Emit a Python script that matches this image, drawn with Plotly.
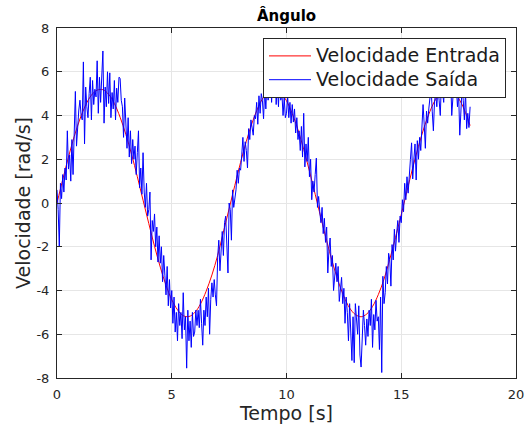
import plotly.graph_objects as go

# Reference (input) velocity, sampled every 0.25 s
t_entrada = [round(0.25 * i, 2) for i in range(73)]
vel_entrada = [
    0.00, 1.07, 2.10, 3.04, 3.84, 4.48, 4.93, 5.16, 5.18, 4.97,
    4.55, 3.92, 3.14, 2.22, 1.20, 0.13, -0.94, -1.98, -2.93, -3.76,
    -4.42, -4.88, -5.15, -5.19, -5.01, -4.62, -4.03, -3.29, -2.40, -1.33,
    -0.26, 0.81, 1.86, 2.82, 3.66, 4.34, 4.84, 5.13, 5.20, 5.04,
    4.67, 4.09, 3.35, 2.45, 1.46, 0.40, -0.68, -1.73, -2.70, -3.57,
    -4.27, -4.80, -5.10, -5.20, -5.07, -4.73, -4.19, -3.48, -2.57, -1.58,
    -0.53, 0.55, 1.61, 2.59, 3.47, 4.19, 4.74, 5.08, 5.20, 5.10,
    4.78, 4.26, 3.54,
]

# Measured (output) velocity, sampled every 0.05 s (one row per second)
t_saida = [round(0.05 * i, 2) for i in range(361)]
vel_saida = [
    0.6, -0.3, -2.0, 0.9, 0.2, 1.3, 0.5, 1.6, 1.05, 3.3, 1.55, 2.2, 1.0, 2.9, 1.3, 3.1, 5.1, 2.6, 3.5, 4.25,
    4.7, 4.0, 3.8, 6.45, 2.7, 5.3, 4.4, 3.9, 5.0, 5.75, 3.8, 5.6, 4.5, 5.2, 4.85, 6.5, 4.1, 5.75, 4.6, 5.5,
    6.95, 3.65, 5.3, 4.4, 6.0, 4.55, 5.95, 3.9, 5.05, 4.3, 5.6, 3.8, 5.25, 4.6, 5.75, 5.7, 4.7, 4.4, 3.0, 4.8,
    3.6, 2.5, 3.9, 2.1, 3.3, 1.8, 2.9, 2.0, 2.6, 1.3, 2.3, 3.3, 0.7, 1.6, 0.4, 2.3, 0.5, -0.2, 0.9, -0.6,
    -0.3, 0.5, -2.6, -0.8, -1.3, -0.5, -2.0, -1.1, -2.7, -1.5, -2.75, -2.0, -3.6, -2.4, -3.3, -4.2, -2.9, -4.7, -3.5, -4.8,
    -4.0, -5.5, -4.3, -5.9, -5.0, -6.3, -4.6, -5.6, -5.0, -6.2, -4.1, -5.8, -5.2, -7.55, -4.9, -6.3, -5.4, -6.6, -5.0, -6.1,
    -5.9, -4.9, -5.6, -4.9, -5.7, -4.4, -5.5, -6.5, -4.9, -5.6, -4.3, -5.2, -3.9, -6.0, -4.4, -3.65, -4.3, -3.5, -4.2, -4.7,
    -2.5, -1.7, -3.1, -2.2, -1.3, -2.4, -0.9, -0.6, -1.8, -3.2, 0.0, -0.3, -1.7, 0.6, -0.2, 0.1, 0.6, 1.5, 0.9, 1.6,
    1.5, 2.2, 3.0, 1.9, 2.8, 2.4, 1.6, 3.4, 2.9, 3.8, 3.5, 3.1, 4.0, 3.85, 4.6, 3.6, 4.9, 4.1, 5.0, 4.7,
    3.85, 5.2, 4.3, 5.6, 4.7, 5.3, 6.1, 4.6, 5.8, 4.9, 6.3, 4.5, 5.5, 4.4, 5.9, 4.7, 5.0, 4.0, 4.8, 3.9,
    4.1, 4.9, 3.9, 4.6, 3.65, 4.5, 3.7, 4.3, 3.2, 3.9, 2.9, 3.3, 2.4, 3.5, 2.1, 4.1, 1.65, 2.7, 1.9, 3.0,
    1.2, 2.0, 0.15, 1.0, 0.5, 1.3, 2.05, -0.2, 0.3, -0.4, -0.9, -0.2, -1.4, -0.7, -1.8, -1.1, -3.2, -2.1, -1.6, -2.9,
    -2.4, -4.0, -3.1, -2.75, -3.6, -2.9, -4.5, -3.9, -3.4, -4.6, -3.9, -5.5, -4.3, -5.0, -6.3, -4.6, -5.6, -7.2, -5.2, -7.3,
    -4.6, -5.35, -6.0, -4.7, -6.95, -7.5, -5.8, -4.9, -5.6, -6.5, -5.3, -6.1, -4.9, -5.6, -4.4, -6.6, -5.1, -5.8, -4.45, -5.4,
    -5.2, -6.7, -4.3, -7.75, -3.35, -4.6, -4.1, -2.9, -3.7, -2.3, -2.6, -3.8, -1.9, -2.6, -1.2, -2.2, -1.4, -0.8, -1.8, -0.6,
    -0.9, 0.15, -0.4, 0.9, 0.15, 1.2, 0.45, 1.05, 2.0, 2.75, 1.1, 2.0, 2.7, 1.05, 2.85, 2.0, 3.0, 2.4, 3.3, 4.5,
    3.6, 2.5, 4.2, 3.65, 4.3, 5.0, 5.3, 4.2, 3.3, 4.65, 5.0, 4.4, 5.3, 4.7, 4.0, 5.5, 5.0, 4.6, 5.8, 5.1,
    4.9, 5.6, 5.2, 5.9, 4.0, 5.1, 5.6, 4.8, 5.3, 4.4, 5.0, 3.1, 4.5, 5.3, 4.7, 3.8, 5.1, 3.4, 4.1, 3.45,
    4.4,
]

x_ticks = [0, 5, 10, 15, 20]
x_tick_labels = ["0", "5", "10", "15", "20"]
y_ticks = [-8, -6, -4, -2, 0, 2, 4, 6, 8]
y_tick_labels = ["-8", "-6", "-4", "-2", "0", "2", "4", "6", "8"]

FONT = "DejaVu Sans"
AXIS_COLOR = "#262626"
GRID_COLOR = "#e6e6e6"


def legend_label(text):
    # legend entries are drawn at 19 px on a tighter row pitch
    return f"<span style='font-size:19px'>{text}</span>"


fig = go.Figure()
fig.add_trace(go.Scatter(
    x=t_entrada, y=vel_entrada, mode="lines",
    name=legend_label("Velocidade Entrada"),
    line=dict(color="#ff0000", width=1, shape="spline"),
))
fig.add_trace(go.Scatter(
    x=t_saida, y=vel_saida, mode="lines",
    name=legend_label("Velocidade Saída"),
    line=dict(color="#0000ff", width=1),
))

axis_common = dict(
    showline=True, linecolor=AXIS_COLOR, linewidth=1, mirror="ticks",
    ticks="inside", ticklen=5, tickcolor=AXIS_COLOR, tickwidth=1,
    showgrid=True, gridcolor=GRID_COLOR, gridwidth=1, zeroline=False,
    tickfont=dict(family=FONT, size=13, color=AXIS_COLOR),
    automargin=False,
)

fig.update_layout(
    width=525, height=428,
    margin=dict(l=57, r=9, t=28, b=50),
    paper_bgcolor="white", plot_bgcolor="white",
    title=dict(
        text="<b>Ângulo</b>", x=0.5, xref="paper", xanchor="center",
        y=1 - 15.5 / 428, yref="container", yanchor="middle",
        font=dict(family=FONT, size=15, color="black"),
    ),
    xaxis=dict(
        range=[0, 20], tickvals=x_ticks, ticktext=x_tick_labels,
        ticklabelstandoff=4,
        title=dict(text="Tempo [s]", standoff=4,
                   font=dict(family=FONT, size=19, color=AXIS_COLOR)),
        **axis_common,
    ),
    yaxis=dict(
        range=[-8, 8], tickvals=y_ticks, ticktext=y_tick_labels,
        ticklabelstandoff=4,
        title=dict(text="Velocidade [rad/s]", standoff=0,
                   font=dict(family=FONT, size=19, color=AXIS_COLOR)),
        **axis_common,
    ),
    legend=dict(
        x=(506 - 57) / 459, xanchor="right", y=(378 - 38) / 350, yanchor="top",
        bgcolor="white", bordercolor=AXIS_COLOR, borderwidth=1,
        font=dict(family=FONT, size=16, color="#1a1a1a"),
        itemwidth=42, tracegroupgap=0,
    ),
    showlegend=True,
)

fig.write_html("out.html")
